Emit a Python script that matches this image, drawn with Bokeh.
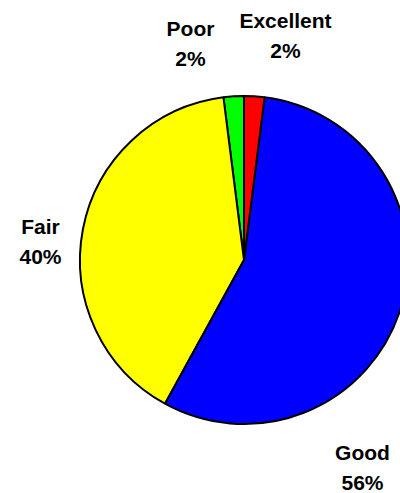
import math
from bokeh.plotting import figure
from bokeh.models import Range1d, ColumnDataSource
from bokeh.core.properties import value
from bokeh.embed import file_html
from bokeh.resources import INLINE

# Data (counter-clockwise from 12 o'clock)
categories = ["Poor", "Fair", "Good", "Excellent"]
percents = [2, 40, 56, 2]
colors = ["#00FF00", "#FFFF00", "#0000FF", "#FF0000"]

# Layout (page pixel coordinates)
W, H = 400, 493
CX, CY, R = 243.5, 259.5, 164
label_pos = {
    "Poor": (190, 28),
    "Excellent": (285, 20),
    "Fair": (40, 226),
    "Good": (362, 452),
}
LINE_GAP = 30


def px(x):
    return x


def py(y):
    return H - y


total = sum(percents)
starts, ends = [], []
a = math.pi / 2
for v in percents:
    starts.append(a)
    a += 2 * math.pi * v / total
    ends.append(a)

src = ColumnDataSource(dict(cat=categories, val=percents, color=colors,
                            start=starts, end=ends))

p = figure(width=W, height=H, output_backend="svg", toolbar_location=None,
           x_range=Range1d(0, W), y_range=Range1d(0, H), min_border=0)
p.axis.visible = False
p.grid.visible = False
p.outline_line_color = None
p.background_fill_color = "white"
p.border_fill_color = "white"

p.wedge(x=px(CX), y=py(CY), radius=R, start_angle="start", end_angle="end",
        direction="anticlock", fill_color="color", line_color="black",
        line_width=2, source=src)

lx, ly1, ly2, names, pcts = [], [], [], [], []
for c, v in zip(categories, percents):
    x, y = label_pos[c]
    lx.append(px(x))
    ly1.append(py(y))
    ly2.append(py(y + LINE_GAP))
    names.append(c)
    pcts.append(f"{v}%")

for ys, txt in ((ly1, names), (ly2, pcts)):
    p.text(x=lx, y=ys, text=txt, text_align="center", text_baseline="middle",
           text_font=value("Liberation Sans"), text_font_style="bold",
           text_font_size="21px", text_color="black")

open("out.html", "w").write(file_html(p, INLINE))
